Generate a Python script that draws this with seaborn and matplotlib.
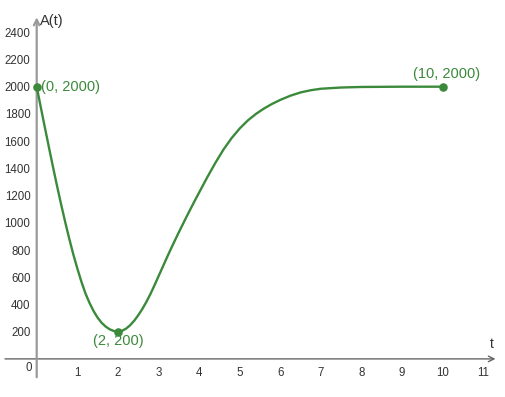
import numpy as np
import pandas as pd
import matplotlib
matplotlib.use("Agg")
import matplotlib.pyplot as plt
import seaborn as sns

# curve values
t_vals = [0.0, 0.1, 0.2, 0.3, 0.4, 0.5, 0.6, 0.7, 0.8, 0.9,
          1.0, 1.1, 1.2, 1.3, 1.4, 1.5, 1.6, 1.7, 1.8, 1.9,
          2.0, 2.1, 2.2, 2.3, 2.4, 2.5, 2.6, 2.7, 2.8, 2.9,
          3.0, 3.1, 3.2, 3.3, 3.4, 3.5, 3.6, 3.7, 3.8, 3.9,
          4.0, 4.2, 4.4, 4.6, 4.8, 5.0, 5.2, 5.4, 5.6, 5.8,
          6.0, 6.25, 6.5, 6.75, 7.0, 7.5, 8.0, 9.0, 10.0]
a_vals = [2000, 1850, 1702, 1556, 1412, 1272, 1137, 1008, 885, 770,
          665, 568, 482, 412, 352, 303, 265, 237, 217, 205,
          200, 206, 222, 247, 280, 320, 366, 418, 476, 540,
          607, 673, 740, 805, 868, 930, 990, 1050, 1108, 1166,
          1222, 1334, 1440, 1538, 1622, 1693, 1752, 1800, 1840, 1874,
          1903, 1934, 1958, 1974, 1985, 1994, 1998, 2000, 2000]

# labelled points
pt_t = [0, 2, 10]
pt_a = [2000, 200, 2000]
pt_labels = ["(0, 2000)", "(2, 200)", "(10, 2000)"]

x_ticks = [1, 2, 3, 4, 5, 6, 7, 8, 9, 10, 11]
y_ticks = [200, 400, 600, 800, 1000, 1200, 1400, 1600, 1800, 2000, 2200, 2400]

sns.set_style("white")
plt.rcParams['font.family'] = ['Liberation Sans', 'DejaVu Sans']

green = "#3b8a3b"
txt = "#333333"

fig = plt.figure(figsize=(5.06, 3.97), dpi=100)
ax = fig.add_axes([0, 0, 1, 1])

curve = pd.DataFrame({"t": t_vals, "A": a_vals})
pts = pd.DataFrame({"t": pt_t, "A": pt_a})

sns.lineplot(data=curve, x="t", y="A", ax=ax, color=green, lw=1.7, zorder=3,
             solid_joinstyle="round", solid_capstyle="round")
sns.scatterplot(data=pts, x="t", y="A", ax=ax, color=green, s=38,
                edgecolor=green, linewidth=0, zorder=4)

ax.set_xlim(-0.904, 11.559)
ax.set_ylim(-280, 2637)

# axes through origin
for s in ["top", "right"]:
    ax.spines[s].set_visible(False)
ax.spines["left"].set_position(("data", 0))
ax.spines["bottom"].set_position(("data", 0))
ax.spines["left"].set_color("none")
ax.spines["bottom"].set_color("none")

ax.annotate("", xy=(11.3, 0), xytext=(-0.78, 0),
            arrowprops=dict(arrowstyle="->", color="#666666", lw=1.0,
                            shrinkA=0, shrinkB=0, mutation_scale=10), zorder=2)
ax.annotate("", xy=(0, 2510), xytext=(0, -135),
            arrowprops=dict(arrowstyle="->", color="#999999", lw=1.6,
                            shrinkA=0, shrinkB=0, mutation_scale=10), zorder=2)

ax.set_xticks(x_ticks)
ax.set_yticks(y_ticks)
ax.tick_params(axis="both", direction="inout", length=3, width=0.8,
               color="#666666", labelsize=8.3, labelcolor=txt)
ax.tick_params(axis="x", pad=4)
ax.tick_params(axis="y", pad=3)
ax.set_xlabel("")
ax.set_ylabel("")

ax.text(-0.2, -70, "0", ha="center", va="center", fontsize=8.3, color=txt)
ax.text(0.08, 2480, "A(t)", ha="left", va="center", fontsize=10.5, color=txt)
ax.text(11.22, 55, "t", ha="center", va="bottom", fontsize=10, color=txt)

offsets = [(3, 0), (0, -7), (3, 9)]
aligns = [("left", "center"), ("center", "center"), ("center", "center")]
for x, y, lab, off, (ha, va) in zip(pt_t, pt_a, pt_labels, offsets, aligns):
    ax.annotate(lab, (x, y), xytext=off, textcoords="offset points",
                ha=ha, va=va, fontsize=10.5, color=green)

fig.savefig("out.png", dpi=100)
